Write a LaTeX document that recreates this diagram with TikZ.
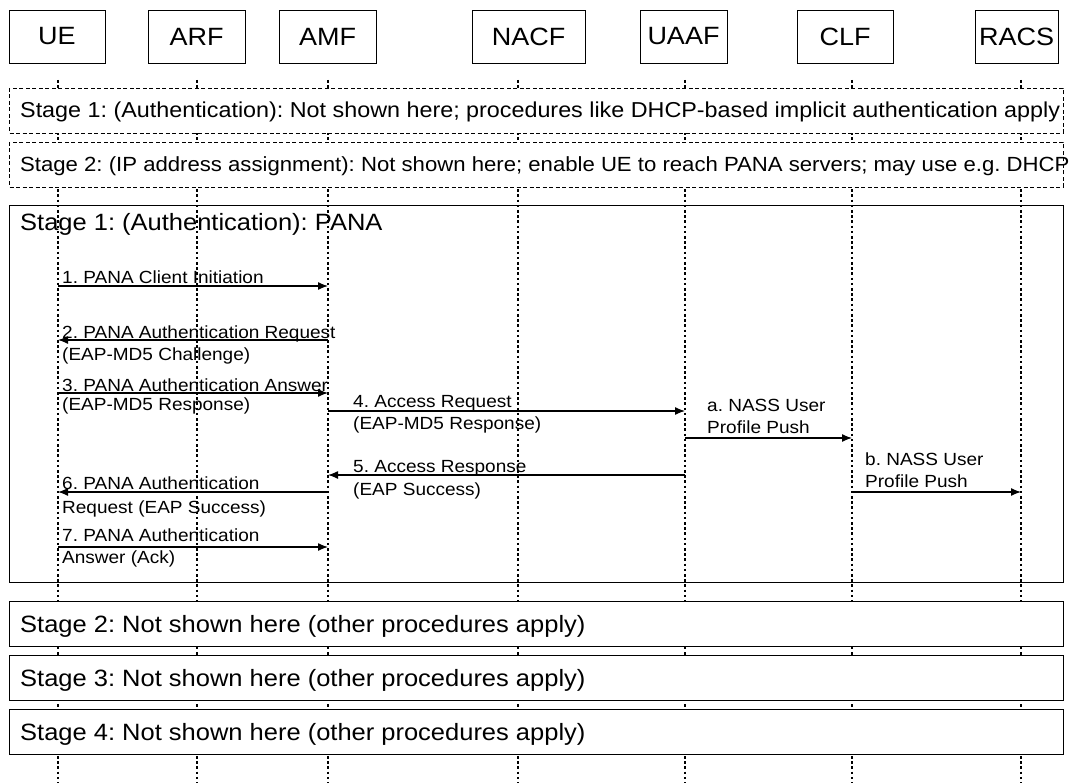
\documentclass[tikz,border=0pt]{standalone}
\usepackage{fontspec}
\setmainfont{Liberation Sans}[FakeStretch=1.08]
\usetikzlibrary{arrows.meta}
\begin{document}
\frenchspacing
\begin{tikzpicture}[x=1pt,y=-1pt,
  entity/.style={draw,line width=0.9pt,minimum height=53pt,inner sep=0pt,
    font=\fontsize{25}{30}\selectfont},
  lifeline/.style={line width=2.6pt,dash pattern=on 2.6pt off 2.6pt},
  phasebox/.style={draw,line width=0.9pt,fill=white},
  dashbox/.style={draw,line width=0.8pt,dash pattern=on 4pt off 2.5pt,fill=white},
  stagetext/.style={anchor=base west,inner sep=0pt,font=\fontsize{23.6}{28}\selectfont},
  notetext/.style={anchor=base west,inner sep=0pt},
  msg/.style={line width=1.3pt,-{Latex[length=10pt,width=8pt]}},
  lbl/.style={anchor=base west,inner sep=0pt,font=\fontsize{17.6}{22}\selectfont,align=left}]
\useasboundingbox (0,0) rectangle (1078,783);

% entities
\node[entity,minimum width=96pt]  (UE)   at (57,36.5)    {UE};
\node[entity,minimum width=97pt]  (ARF)  at (196.5,36.5) {ARF};
\node[entity,minimum width=97pt]  (AMF)  at (327.5,36.5) {AMF};
\node[entity,minimum width=113pt] (NACF) at (528.5,36.5) {NACF};
\node[entity,minimum width=87pt]  (UAAF) at (683.5,36.5) {UAAF};
\node[entity,minimum width=96pt]  (CLF)  at (845,36.5)   {CLF};
\node[entity,minimum width=83pt]  (RACS) at (1016.5,36.5){RACS};

% lifeline tops and the bottom edge
\coordinate (lUE)   at (58,80);
\coordinate (lARF)  at (197,80);
\coordinate (lAMF)  at (328,80);
\coordinate (lNACF) at (518,80);
\coordinate (lUAAF) at (685,80);
\coordinate (lCLF)  at (852,80);
\coordinate (lRACS) at (1021,80);
\coordinate (bottom) at (0,783);

% stage 1 (PANA) frame, crossed by the lifelines
\draw[line width=0.9pt] (9,205) rectangle (1063,582);
\node[stagetext] (pana) at (20,231) {Stage 1: (Authentication): PANA};

% lifelines
\foreach \l in {lUE,lARF,lAMF,lNACF,lUAAF,lCLF,lRACS}
  \draw[lifeline] (\l) -- (\l |- bottom);

% dashed stages (not shown)
\draw[dashbox] (9,88) rectangle (1063,133);
\node[notetext,font=\fontsize{21.6}{26}\selectfont] (ds1) at (20,118) {Stage 1: (Authentication): Not shown here; procedures like DHCP-based implicit authentication apply};
\draw[dashbox] (9,142) rectangle (1063,187);
\node[notetext,font=\fontsize{20.5}{26}\selectfont] (ds2) at (20,172) {Stage 2: (IP address assignment): Not shown here; enable UE to reach PANA servers; may use e.g. DHCP};

% later stages
\draw[phasebox] (9,601) rectangle (1063,646);
\node[stagetext] (s2) at (20,632) {Stage 2: Not shown here (other procedures apply)};
\draw[phasebox] (9,655) rectangle (1063,700);
\node[stagetext] (s3) at (20,686) {Stage 3: Not shown here (other procedures apply)};
\draw[phasebox] (9,709) rectangle (1063,754);
\node[stagetext] (s4) at (20,740) {Stage 4: Not shown here (other procedures apply)};

% message rows
\coordinate (m1) at (0,286);
\coordinate (m2) at (0,340);
\coordinate (m3) at (0,393);
\coordinate (m4) at (0,411);
\coordinate (ma) at (0,438);
\coordinate (m5) at (0,475);
\coordinate (m6) at (0,492);
\coordinate (mb) at (0,492);
\coordinate (m7) at (0,547);

\draw[msg] (lUE |- m1) -- (lAMF |- m1);
\node[lbl] (t1) at (62,284) {1. PANA Client Initiation};

\draw[msg] (lAMF |- m2) -- (lUE |- m2);
\node[lbl] (t2a) at (62,338) {2. PANA Authentication Request};
\node[lbl] (t2b) at (62,360) {(EAP-MD5 Challenge)};

\draw[msg] (lUE |- m3) -- (lAMF |- m3);
\node[lbl] (t3a) at (62,391) {3. PANA Authentication Answer};
\node[lbl] (t3b) at (62,410) {(EAP-MD5 Response)};

\draw[msg] (lAMF |- m4) -- (lUAAF |- m4);
\node[lbl] (t4a) at (353,407) {4. Access Request};
\node[lbl] (t4b) at (353,429) {(EAP-MD5 Response)};

\draw[msg] (lUAAF |- ma) -- (lCLF |- ma);
\node[lbl] (taa) at (707,411) {a. NASS User};
\node[lbl] (tab) at (707,433) {Profile Push};

\draw[msg] (lUAAF |- m5) -- (lAMF |- m5);
\node[lbl] (t5a) at (353,472) {5. Access Response};
\node[lbl] (t5b) at (353,495) {(EAP Success)};

\draw[msg] (lAMF |- m6) -- (lUE |- m6);
\node[lbl] (t6a) at (62,489) {6. PANA Authentication};
\node[lbl] (t6b) at (62,513) {Request (EAP Success)};

\draw[msg] (lCLF |- mb) -- (lRACS |- mb);
\node[lbl] (tba) at (865,465) {b. NASS User};
\node[lbl] (tbb) at (865,487) {Profile Push};

\draw[msg] (lUE |- m7) -- (lAMF |- m7);
\node[lbl] (t7a) at (62,541) {7. PANA Authentication};
\node[lbl] (t7b) at (62,563) {Answer (Ack)};
\end{tikzpicture}
\end{document}
